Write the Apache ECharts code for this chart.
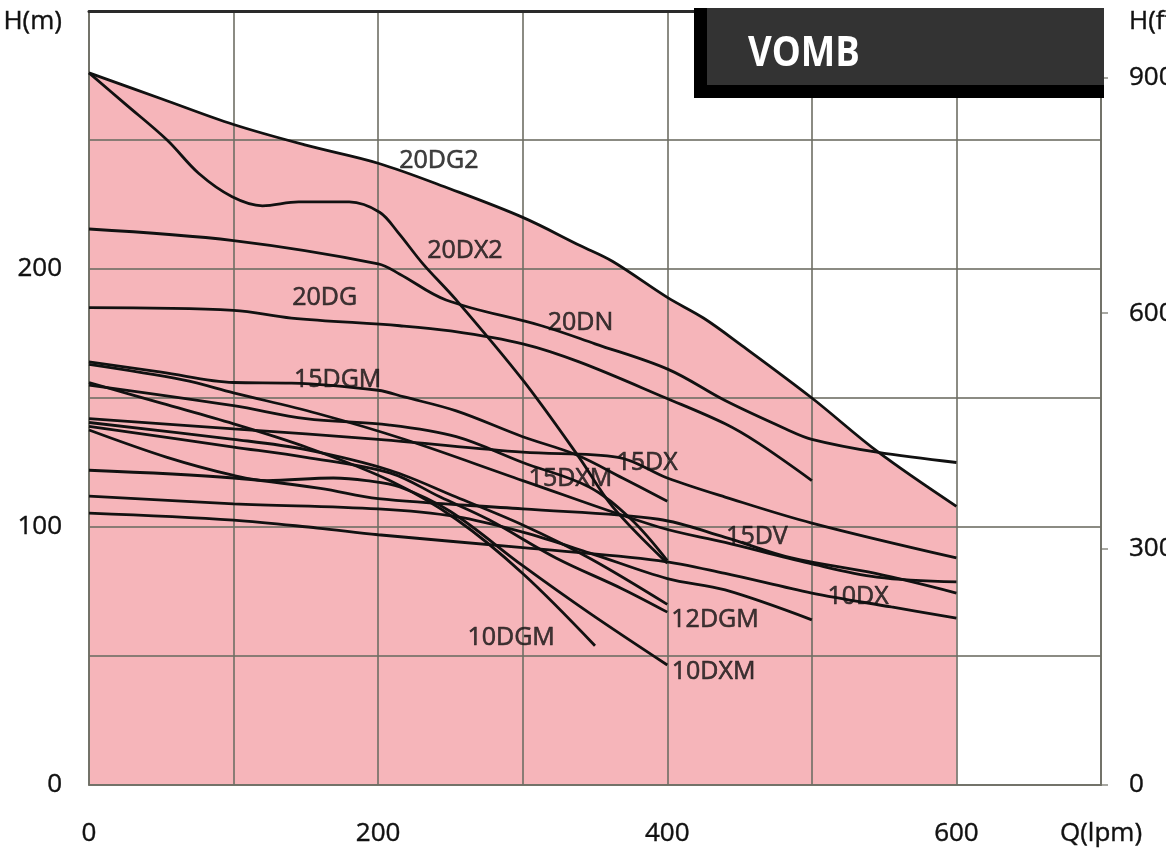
<!DOCTYPE html>
<html>
<head>
<meta charset="utf-8">
<script src="https://cdn.jsdelivr.net/npm/echarts@6/dist/echarts.min.js"></script>
<style>
  html, body { margin: 0; padding: 0; overflow: hidden; background: #fff; }
  #chart { width: 1200px; height: 854px; }
</style>
</head>
<body>
<div id="chart"></div>
<script>
// pump curves, Q (lpm) vs H (m)
const c20DG2 = [[0,276],[50,266],[100,256],[150,248],[200,241],[250,231],[300,220],[340,209],[362,203],[400,189],[425,181],[450,171],[500,150],[546,129],[600,108]];
const c20DX2 = [[0,276],[25,264],[54,250],[76,237],[99,228],[120,224.5],[145,226],[180,226],[201,222],[214,214],[231,202],[254,188],[300,157],[339,127],[362,108],[400,86]];
const c20DN = [[0,215.5],[100,211],[200,202],[215,198],[247,188],[313,178],[350,171],[401,161],[440,149],[482,138],[500,134],[545,129],[600,125]];
const c20DG = [[0,185],[100,184],[140,181],[215,178],[250,176],[300,171],[339,164],[399,150],[440,140],[463,132.5],[500,118]];
const c15DGM = [[0,164],[50,160],[100,156],[140,155.8],[200,153],[218,150.4],[254,145],[300,135],[337,128],[369,119],[400,110]];
const c15Da = [[0,163],[65,157],[100,152],[158,144],[218,134],[300,118],[394,100],[440,94],[498,86],[545,80.6],[600,78.7]];
const c15DXM = [[0,155],[100,147],[150,142],[208,139.5],[254,135],[300,125],[346,115.5],[375,103],[400,87]];
const c10DGM = [[0,156],[50,148],[100,140],[150,131],[208,118],[254,103],[300,82],[350,54]];
const c15DX = [[0,142],[100,138],[200,134],[300,129],[366,127],[400,119],[440,111.6],[500,101.5],[600,88]];
const c12DGM = [[0,140.5],[100,134],[150,130],[208,122],[254,111.6],[300,100.8],[346,88],[400,70]];
const c12Da = [[0,139],[100,131],[150,127],[208,121],[243,111.6],[277,102.7],[323,88],[369,76],[400,67]];
const c10DXM = [[0,137.6],[54,127],[100,120],[123,118],[169,119],[192,118],[215,115.5],[250,106],[300,85],[346,66.7],[400,46.5]];
const c15DV = [[0,122],[100,119],[160,115],[200,111],[300,107],[394,103],[440,96],[486,88],[544,82],[600,74.4]];
const c10Da = [[0,112],[100,109],[200,107],[254,104],[300,98],[346,90],[400,80],[440,75.6],[500,64]];
const c10DX = [[0,105.4],[100,102.7],[158,99.6],[200,97],[300,92],[394,87],[440,82],[500,74.4],[555,69],[600,64.7]];

const curves = [c20DG2, c20DX2, c20DN, c20DG, c15DGM, c15Da, c15DXM, c10DGM, c15DX, c12DGM, c12Da, c10DXM, c15DV, c10Da, c10DX];
const curveNames = ['20DG2','20DX2','20DN','20DG','15DGM','15D-a','15DXM','10DGM','15DX','12DGM','12D-a','10DXM','15DV','10D-a','10DX'];

// model labels written on the curves
const labelNames = ['20DG2','20DX2','20DG','20DN','15DGM','15DX','15DXM','15DV','10DX','12DGM','10DGM','10DXM'];
const labelQ = [242, 260, 163, 340, 172, 386, 333, 462, 532, 433, 292, 432];
const labelH = [242, 207, 189, 179, 157, 125, 118.6, 96, 73, 64, 57, 44];

// axis tick labels
const qLabels = [0, 200, 400, 600];
const qName = 'Q(lpm)';
const hLabels = [0, 100, 200];
const hName = 'H(m)';
const ftLabels = [0, 300, 600, 900];
const ftName = 'H(ft)';
const M_TO_FT = 3.28084;

const font = '"Open Sans", "Noto Sans", sans-serif';
const gridColor = 'rgba(110,110,100,0.8)';

const chart = echarts.init(document.getElementById('chart'));

const series = [
  {
    name: 'envelope',
    type: 'line',
    data: c20DG2,
    smooth: 0.35,
    symbol: 'none',
    silent: true,
    lineStyle: { width: 0 },
    areaStyle: { color: '#f6b5ba', opacity: 1 },
    z: 1
  }
];
curves.forEach((c, i) => {
  series.push({
    name: curveNames[i],
    type: 'line',
    data: c,
    smooth: 0.35,
    symbol: 'none',
    lineStyle: { color: '#111', width: 2.8 },
    z: 5
  });
});
series.push({
  name: 'labels',
  type: 'scatter',
  symbolSize: 0,
  data: labelNames.map((n, i) => [labelQ[i], labelH[i], n]),
  label: {
    show: true,
    position: [0, 0],
    align: 'center',
    verticalAlign: 'middle',
    formatter: p => p.data[2],
    fontFamily: font,
    fontSize: 25,
    color: '#111',
    textBorderColor: '#111',
    textBorderWidth: 0.6
  },
  z: 6
});

const axisText = { fontFamily: font, fontSize: 26, color: '#111', textBorderColor: '#111', textBorderWidth: 0.4 };

chart.setOption({
  animation: false,
  grid: { left: 89, right: 99, top: 11, bottom: 69 },
  xAxis: [
    {
      type: 'value', min: 0, max: 700, interval: 100, position: 'bottom', z: 3,
      axisLine: { onZero: false, lineStyle: { color: gridColor, width: 2 } },
      axisTick: { show: false },
      splitLine: { show: true, lineStyle: { color: gridColor, width: 2 } },
      axisLabel: Object.assign({
        margin: 36,
        formatter: v => v === 700 ? qName : (qLabels.includes(v) ? String(v) : '')
      }, axisText)
    },
    {
      type: 'value', min: 0, max: 700, position: 'top', z: 3,
      axisLine: { onZero: false, lineStyle: { color: '#2a2a2a', width: 3 } },
      axisTick: { show: false }, axisLabel: { show: false }, splitLine: { show: false }
    }
  ],
  yAxis: [
    {
      type: 'value', min: 0, max: 300, interval: 50, position: 'left', z: 3,
      axisLine: { show: true, onZero: false, lineStyle: { color: gridColor, width: 2 } },
      axisTick: { show: false },
      splitLine: { show: true, lineStyle: { color: gridColor, width: 2 } },
      axisLabel: Object.assign({
        margin: 27,
        formatter: v => v === 300 ? '{t|' + hName + '}' : (hLabels.includes(v) ? String(v) : ''),
        rich: { t: Object.assign({ padding: [22, 0, 0, 0] }, axisText) }
      }, axisText)
    },
    {
      type: 'value', min: 0, max: 300 * M_TO_FT, interval: 300, position: 'right', z: 3,
      axisLine: { show: true, onZero: false, lineStyle: { color: gridColor, width: 2 } },
      axisTick: { show: true, length: 7, customValues: ftLabels, lineStyle: { color: gridColor, width: 1.5 } },
      splitLine: { show: false },
      axisLabel: Object.assign({
        margin: 28,
        formatter: v => ftLabels.includes(v) ? String(v) : '{t|' + ftName + '}',
        rich: { t: Object.assign({ padding: [22, 0, 0, 0] }, axisText) }
      }, axisText)
    }
  ],
  graphic: [
    { type: 'rect', left: 694, top: 8, shape: { width: 410, height: 90 }, style: { fill: '#000' }, z: 10 },
    { type: 'rect', left: 707, top: 8, shape: { width: 397, height: 77 }, style: { fill: '#333' }, z: 11 },
    {
      type: 'text', z: 12, x: 748, y: 54, scaleX: 0.87,
      style: { x: 0, y: 0, text: 'VOMB', fill: '#fff', verticalAlign: 'middle', font: 'bold 42px "Open Sans", sans-serif' }
    }
  ],
  series: series
});
</script>
</body>
</html>
